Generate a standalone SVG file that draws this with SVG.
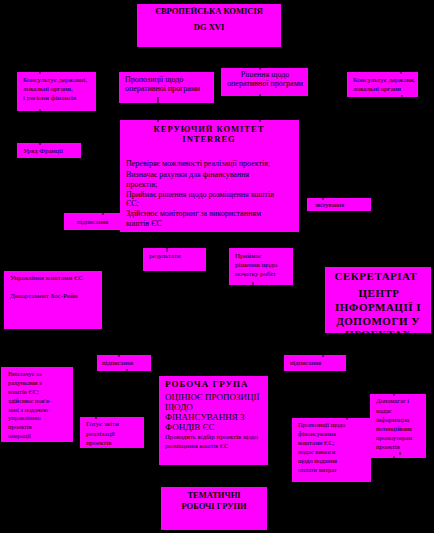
<svg xmlns="http://www.w3.org/2000/svg" width="434" height="533" viewBox="0 0 434 533">
<style>
.box{fill:#ff00ff;stroke:none}
text{font-family:"Liberation Serif","Times New Roman",serif;fill:#000}
.b{font-weight:bold}
.s7{font-size:7px}
.s8{font-size:8px}
.s6{font-size:6.5px}
.c{text-anchor:middle}
.conn line,.conn polyline{stroke:#000;stroke-width:1;fill:none}
</style>
<defs>
<clipPath id="secClip"><rect x="325" y="267" width="106" height="66"/></clipPath>
</defs>
<rect x="0" y="0" width="434" height="533" fill="#000"/>

<g id="ec">
<rect class="box" x="137" y="4" width="144" height="43"/>
<text class="b c" x="209" y="14" font-size="8.5">ЄВРОПЕЙСЬКА КОМІСІЯ</text>
<text class="b c" x="209" y="30" font-size="8.5">DG XVI</text>
</g>

<g id="consult1">
<rect class="box" x="17" y="72" width="79" height="39"/>
<text class="s7" x="23" y="82">Консультує державні,</text>
<text class="s7" x="23" y="91">локальні органи,</text>
<text class="s7" x="23" y="100">і регіони фінансів</text>
</g>

<g id="proposals">
<rect class="box" x="119" y="72" width="95" height="31"/>
<text class="s8" x="125" y="82">Пропозиції щодо</text>
<text class="s8" x="125" y="91" textLength="75">оперативної програми</text>
</g>

<g id="decisions">
<rect class="box" x="221" y="68" width="87" height="28"/>
<text class="s8 c" x="265" y="77">Рішення щодо</text>
<text class="s8 c" x="265" y="86" textLength="76">оперативної програми</text>
</g>

<g id="consult2">
<rect class="box" x="347" y="72" width="71" height="25"/>
<text class="s7" x="353" y="82">Консультує держави,</text>
<text class="s7" x="353" y="91">локальні органи</text>
</g>

<g id="france">
<rect class="box" x="17" y="143" width="64" height="15"/>
<text class="s7" x="23" y="153">Уряд Франції</text>
</g>

<g id="steering">
<rect class="box" x="120" y="120" width="179" height="112"/>
<text class="b c" x="209" y="132" font-size="8.5" letter-spacing="1">КЕРУЮЧИЙ КОМІТЕТ</text>
<text class="b c" x="209" y="142" font-size="8.5" letter-spacing="1">INTERREG</text>
<text class="s8" x="126" y="166">Перевіряє можливості реалізації проектів;</text>
<text class="s8" x="126" y="177">Визначає рахунки для фінансування</text>
<text class="s8" x="126" y="187">проектів;</text>
<text class="s8" x="126" y="197">Приймає рішення щодо розміщення коштів</text>
<text class="s8" x="126" y="206">ЄС;</text>
<text class="s8" x="126" y="216">Здійснює моніторинг за використанням</text>
<text class="s8" x="126" y="226">коштів ЄС</text>
</g>

<g id="sign1">
<rect class="box" x="64" y="213" width="56" height="17"/>
<text class="s6" x="77" y="224">підписання</text>
</g>

<g id="report">
<rect class="box" x="307" y="198" width="64" height="13"/>
<text class="s6" x="315" y="207">звітування</text>
</g>

<g id="results">
<rect class="box" x="143" y="248" width="63" height="23"/>
<text class="s7" x="149" y="258">результати</text>
</g>

<g id="startwork">
<rect class="box" x="229" y="248" width="64" height="37"/>
<text class="s7" x="235" y="258">Приймає</text>
<text class="s7" x="235" y="267">рішення щодо</text>
<text class="s7" x="235" y="276">початку робіт</text>
</g>

<g id="fundsmgmt">
<rect class="box" x="4" y="271" width="98" height="58"/>
<text class="s7" x="10" y="280">Управління коштами ЄС</text>
<text class="s7" x="10" y="298">Департамент Бас-Рейн</text>
</g>

<g id="secretariat">
<rect class="box" x="325" y="267" width="106" height="66"/>
<g clip-path="url(#secClip)">
<text class="b c" x="376" y="280" font-size="11" letter-spacing="0.5">СЕКРЕТАРІАТ</text>
<text class="b c" x="379" y="297" font-size="11" letter-spacing="0.5">ЦЕНТР</text>
<text class="b c" x="378" y="311" font-size="11" letter-spacing="0.5">ІНФОРМАЦІЇ І</text>
<text class="b c" x="378" y="325" font-size="11" letter-spacing="0.5">ДОПОМОГИ У</text>
<text class="b c" x="378" y="338" font-size="11" letter-spacing="0.5">ПРОЕКТАХ</text>
</g>
</g>

<g id="sign2">
<rect class="box" x="97" y="355" width="54" height="16"/>
<text class="s6" x="102" y="365">підписання</text>
</g>

<g id="sign3">
<rect class="box" x="284" y="355" width="62" height="16"/>
<text class="s6" x="290" y="365">підписання</text>
</g>

<g id="payments">
<rect class="box" x="1" y="367" width="72" height="75"/>
<text class="s6" x="8" y="376">Виплачує за</text>
<text class="s6" x="8" y="385">рахунками з</text>
<text class="s6" x="8" y="394">коштів ЄС;</text>
<text class="s6" x="8" y="403">здійснює пов'я-</text>
<text class="s6" x="8" y="412">зані з подачею</text>
<text class="s6" x="8" y="420">управлінню</text>
<text class="s6" x="8" y="429">проектів</text>
<text class="s6" x="8" y="438">операції</text>
</g>

<g id="reports">
<rect class="box" x="80" y="417" width="64" height="31"/>
<text class="s7" x="86" y="426">Готує звіти</text>
<text class="s7" x="86" y="436">реалізації</text>
<text class="s7" x="86" y="445">проектів</text>
</g>

<g id="workgroup">
<rect class="box" x="159" y="376" width="109" height="89"/>
<text class="b" x="165" y="387" font-size="9" letter-spacing="1">РОБОЧА  ГРУПА</text>
<text x="165" y="400" font-size="9">ОЦІНЮЄ ПРОПОЗИЦІЇ</text>
<text x="165" y="410" font-size="9">ЩОДО</text>
<text x="165" y="420" font-size="9">ФІНАНСУВАННЯ З</text>
<text x="165" y="430" font-size="9">ФОНДІВ  ЄС</text>
<text x="165" y="439" font-size="6.5" textLength="93">Проводить відбір проектів щодо</text>
<text x="165" y="448" font-size="6.5">розміщення коштів ЄС</text>
</g>

<g id="financeprop">
<rect class="box" x="292" y="418" width="79" height="64"/>
<text class="s6" x="298" y="427">Пропозиції щодо</text>
<text class="s6" x="298" y="436">фінансування</text>
<text class="s6" x="298" y="445">коштами ЄС;</text>
<text class="s6" x="298" y="454">подає вимоги</text>
<text class="s6" x="298" y="463">щодо подання</text>
<text class="s6" x="298" y="472">оплати витрат</text>
</g>

<g id="help">
<rect class="box" x="370" y="394" width="56" height="64"/>
<text class="s6" x="376" y="403">Допомагає і</text>
<text class="s6" x="376" y="413">надає</text>
<text class="s6" x="376" y="422">інформацію</text>
<text class="s6" x="376" y="431">потенційним</text>
<text class="s6" x="376" y="440">промоутерам</text>
<text class="s6" x="376" y="449">проектів</text>
</g>

<g id="thematic">
<rect class="box" x="161" y="487" width="106" height="43"/>
<text class="b c" x="214" y="498" font-size="8.5">ТЕМАТИЧНІ</text>
<text class="b c" x="214" y="509" font-size="8.5">РОБОЧІ ГРУПИ</text>
</g>

<g id="connectors" class="conn">
<polyline points="209,47 209,58 40,58 40,74"/>
<polyline points="209,58 260,58 260,70"/>
<polyline points="209,58 401,58 401,74"/>
<line x1="40" y1="109" x2="40" y2="145"/>
<line x1="158" y1="97" x2="158" y2="122"/>
<line x1="260" y1="94" x2="260" y2="122"/>
<polyline points="402,95 402,115 430,115"/>
<line x1="103" y1="211" x2="103" y2="215"/>
<line x1="323" y1="196" x2="323" y2="200"/>
<line x1="167" y1="232" x2="167" y2="252"/>
<line x1="253" y1="282" x2="253" y2="290"/>
<line x1="119" y1="340" x2="119" y2="357"/>
<line x1="127" y1="369" x2="127" y2="374"/>
<line x1="323" y1="340" x2="323" y2="357"/>
<line x1="96" y1="410" x2="96" y2="419"/>
<line x1="347" y1="410" x2="347" y2="420"/>
<line x1="394" y1="388" x2="394" y2="396"/>
<line x1="394" y1="456" x2="394" y2="470"/>
<line x1="400" y1="452" x2="400" y2="455"/>
</g>
</svg>
